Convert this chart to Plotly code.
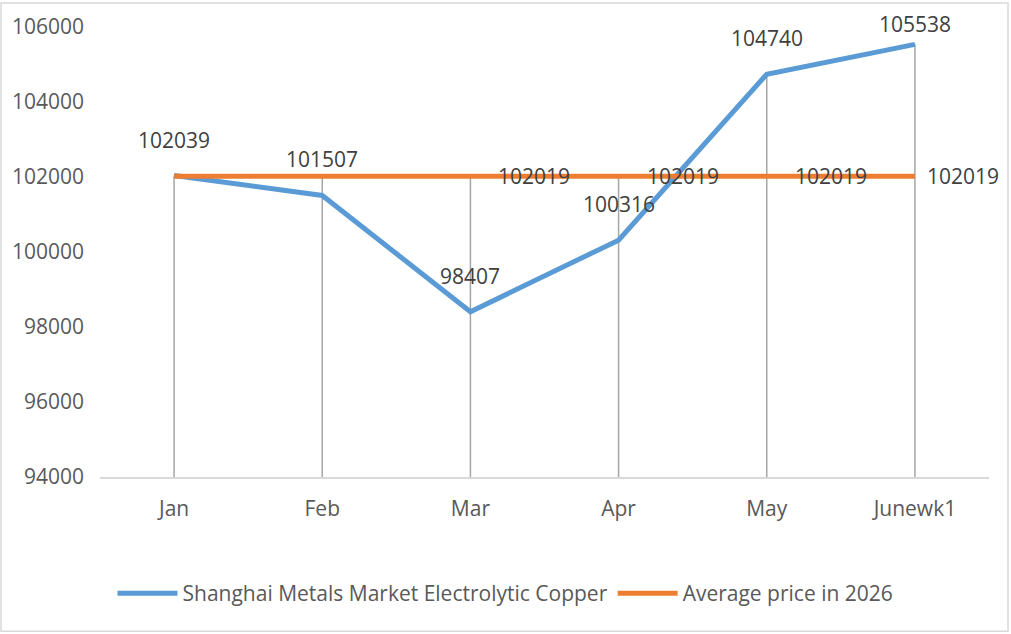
import plotly.graph_objects as go

months = ["Jan", "Feb", "Mar", "Apr", "May", "Junewk1"]
smm_copper = [102039, 101507, 98407, 100316, 104740, 105538]
avg_2026 = [102019, 102019, 102019, 102019, 102019, 102019]
y_ticks = [94000, 96000, 98000, 100000, 102000, 104000, 106000]
avg_label_idx = [2, 3, 4, 5]

BLUE = "#5b9bd5"
ORANGE = "#ed7d31"
FONT = "Open Sans"
FS = 21

W, H = 1011, 634
ml, mr, mt, mb = 100, 22, 25, 157
pw, ph = W - ml - mr, H - mt - mb
ymin, ymax = y_ticks[0], y_ticks[-1]
n = len(months)

fig = go.Figure()
fig.add_trace(go.Scatter(x=months, y=smm_copper, mode="lines",
                         name="Shanghai Metals Market Electrolytic Copper",
                         line=dict(color=BLUE, width=5)))
fig.add_trace(go.Scatter(x=months, y=avg_2026, mode="lines",
                         name="Average price in 2026",
                         line=dict(color=ORANGE, width=5)))

shapes = []
for m, a, b in zip(months, smm_copper, avg_2026):
    shapes.append(dict(type="line", xref="x", yref="y", x0=m, x1=m,
                       y0=ymin, y1=max(a, b), layer="below",
                       line=dict(color="#a6a6a6", width=1.5)))
shapes.append(dict(type="rect", xref="paper", yref="paper",
                   x0=-(ml - 1) / pw, x1=1 + (mr - 3) / pw,
                   y0=-(mb - 2) / ph, y1=1 + (mt - 1) / ph,
                   line=dict(color="#d9d9d9", width=1.5)))

annotations = []
for m, v in zip(months, smm_copper):
    py = mt + (ymax - v) / (ymax - ymin) * ph
    shift = min(36, py - 22)
    annotations.append(dict(x=m, y=v, text=str(v), showarrow=False,
                            yshift=shift, xanchor="center", yanchor="middle",
                            font=dict(family=FONT, size=FS, color="#404040")))
for i in avg_label_idx:
    px = ml + (i + 0.5) / n * pw
    txt = str(avg_2026[i])
    tw = len(txt) * 0.572 * FS
    xs = min(26, 997 - px - tw)
    annotations.append(dict(x=months[i], y=avg_2026[i], text=txt,
                            showarrow=False, xshift=xs, xanchor="left",
                            yanchor="middle",
                            font=dict(family=FONT, size=FS, color="#404040")))

fig.update_layout(
    width=W, height=H,
    margin=dict(l=ml, r=mr, t=mt, b=mb),
    paper_bgcolor="white", plot_bgcolor="white",
    font=dict(family=FONT, size=FS, color="#595959"),
    shapes=shapes, annotations=annotations,
    showlegend=True,
    legend=dict(orientation="h", x=(W / 2 - ml) / pw, xanchor="center",
                y=-(594 - (mt + ph)) / ph, yanchor="middle",
                font=dict(size=FS, color="#595959"), itemwidth=60,
                bgcolor="rgba(0,0,0,0)"),
    xaxis=dict(range=[-0.5, 5.5], showgrid=False, showline=True,
               linecolor="#d9d9d9", linewidth=2, ticks="", zeroline=False,
               ticklabelstandoff=12, fixedrange=True),
    yaxis=dict(range=[ymin, ymax], tickvals=y_ticks,
               tickformat="d", showgrid=False, showline=False,
               zeroline=False, ticks="", ticklabelstandoff=15),
)

fig.write_html("out.html")
